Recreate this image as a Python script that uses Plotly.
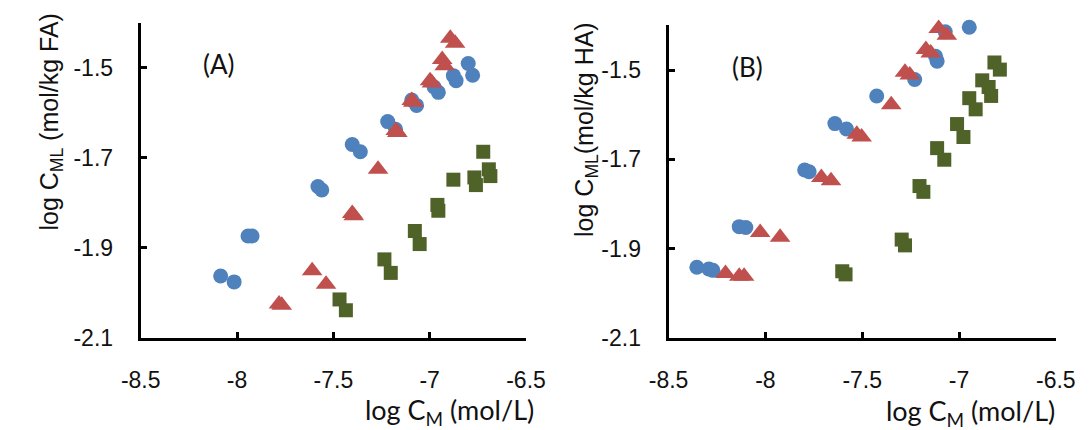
import plotly.graph_objects as go

# ---------------- Data ----------------
# Panel A
a_circle_x = [-8.085, -8.015, -7.943, -7.922, -7.580, -7.560, -7.402, -7.360, -7.218, -7.177,
              -7.093, -7.068, -6.977, -6.955, -6.877, -6.863, -6.800, -6.777]
a_circle_y = [-1.963, -1.976, -1.874, -1.874, -1.764, -1.772, -1.671, -1.687, -1.620, -1.637,
              -1.572, -1.584, -1.543, -1.555, -1.518, -1.529, -1.491, -1.517]
a_tri_x = [-7.782, -7.768, -7.610, -7.538, -7.402, -7.394, -7.268, -7.176, -7.168,
           -7.093, -7.085, -6.998, -6.988, -6.935, -6.922, -6.893, -6.868]
a_tri_y = [-2.025, -2.028, -1.951, -1.981, -1.824, -1.829, -1.726, -1.640, -1.644,
           -1.573, -1.577, -1.529, -1.534, -1.482, -1.496, -1.435, -1.446]
a_sq_x = [-7.468, -7.435, -7.235, -7.202, -7.077, -7.052, -6.960, -6.955, -6.877,
          -6.768, -6.760, -6.722, -6.693, -6.685]
a_sq_y = [-2.015, -2.039, -1.926, -1.956, -1.863, -1.892, -1.805, -1.818, -1.749,
          -1.744, -1.761, -1.687, -1.726, -1.741]

# Panel B
b_circle_x = [-8.354, -8.292, -8.271, -8.135, -8.101, -7.797, -7.774, -7.641, -7.581,
              -7.425, -7.229, -7.121, -7.113, -7.071, -6.947]
b_circle_y = [-1.942, -1.946, -1.949, -1.851, -1.853, -1.724, -1.728, -1.620, -1.632,
              -1.558, -1.521, -1.469, -1.480, -1.414, -1.404]
b_tri_x = [-8.206, -8.135, -8.110, -8.027, -7.924, -7.711, -7.661, -7.528, -7.503,
           -7.350, -7.279, -7.254, -7.171, -7.146, -7.105, -7.063]
b_tri_y = [-1.956, -1.962, -1.962, -1.864, -1.875, -1.741, -1.748, -1.644, -1.650,
           -1.578, -1.505, -1.511, -1.454, -1.462, -1.407, -1.422]
b_sq_x = [-7.603, -7.586, -7.296, -7.279, -7.204, -7.184, -7.113, -7.076, -7.010, -6.977,
          -6.947, -6.914, -6.880, -6.847, -6.834, -6.817, -6.789]
b_sq_y = [-1.951, -1.958, -1.880, -1.893, -1.760, -1.773, -1.675, -1.701, -1.621, -1.650,
          -1.563, -1.588, -1.523, -1.538, -1.558, -1.483, -1.499]

x_tickvals = [-8.5, -8.0, -7.5, -7.0, -6.5]
x_ticktext = ["-8.5", "-8", "-7.5", "-7", "-6.5"]
y_tickvals = [-2.1, -1.9, -1.7, -1.5]
y_ticktext = ["-2.1", "-1.9", "-1.7", "-1.5"]

BLUE = "#4F81BD"
RED = "#C0504D"
GREEN = "#4F6228"

fig = go.Figure()

def add(xs, ys, symbol, color, size, xa, ya):
    fig.add_trace(go.Scatter(x=xs, y=ys, mode="markers", xaxis=xa, yaxis=ya,
                             cliponaxis=False, showlegend=False,
                             marker=dict(symbol=symbol, color=color, size=size,
                                         line=dict(width=0))))

add(a_circle_x, a_circle_y, "circle", BLUE, 15, "x", "y")
add(a_tri_x, a_tri_y, "triangle-up", RED, 18, "x", "y")
add(a_sq_x, a_sq_y, "square", GREEN, 14, "x", "y")
add(b_circle_x, b_circle_y, "circle", BLUE, 15, "x2", "y2")
add(b_tri_x, b_tri_y, "triangle-up", RED, 18, "x2", "y2")
add(b_sq_x, b_sq_y, "square", GREEN, 14, "x2", "y2")

W, H = 1089, 430
tickfont = dict(family="Liberation Sans, Arial", size=23, color="#111")

xcommon = dict(range=[-8.5, -6.5], tickvals=x_tickvals, ticktext=x_ticktext,
               showline=True, linecolor="black", linewidth=3, ticks="inside",
               ticklen=6, tickwidth=3, tickcolor="black", showgrid=False,
               zeroline=False, tickfont=tickfont, ticklabelstandoff=20)
ycommon = dict(range=[-2.1, -1.4], tickvals=y_tickvals, ticktext=y_ticktext,
               showline=True, linecolor="black", linewidth=3, ticks="inside",
               ticklen=6, tickwidth=3, tickcolor="black", showgrid=False,
               zeroline=False, tickfont=tickfont, ticklabelstandoff=20)

fig.update_layout(
    width=W, height=H,
    margin=dict(l=0, r=0, t=0, b=0),
    paper_bgcolor="white", plot_bgcolor="white",
    xaxis=dict(domain=[117 / W, 517 / W], anchor="y", **xcommon),
    yaxis=dict(domain=[1 - 340 / H, 1 - 15 / H], anchor="x", **ycommon),
    xaxis2=dict(domain=[665 / W, 1067 / W], anchor="y2", **xcommon),
    yaxis2=dict(domain=[1 - 340 / H, 1 - 18 / H], anchor="x2", **ycommon),
)

titlefont = dict(family="Lato, Open Sans", size=27, color="#111")
labelfont = dict(family="Lato, Open Sans", size=26, color="#111")
yfont = dict(family="Liberation Sans, Arial", size=25, color="#111")

annotations = [
    dict(text="(A)", x=198 / W, y=1 - 58 / H, font=labelfont),
    dict(text="(B)", x=747 / W, y=1 - 61 / H, font=labelfont),
    dict(text="log C<sub>M</sub> (mol/L)", x=438 / W, y=1 - 416 / H, font=titlefont),
    dict(text="log C<sub>M</sub> (mol/L)", x=978 / W, y=1 - 417 / H, font=titlefont),
    dict(text="log C<sub>ML</sub> (mol/kg FA)", x=24 / W, y=1 - 118 / H,
         textangle=-90, font=yfont),
    dict(text="log C<sub>ML</sub>(mol/kg HA)", x=579 / W, y=1 - 125 / H,
         textangle=-90, font=yfont),
]
for a in annotations:
    a.update(xref="paper", yref="paper", showarrow=False,
             xanchor="center", yanchor="middle")
fig.update_layout(annotations=annotations)

fig.write_html("out.html")
